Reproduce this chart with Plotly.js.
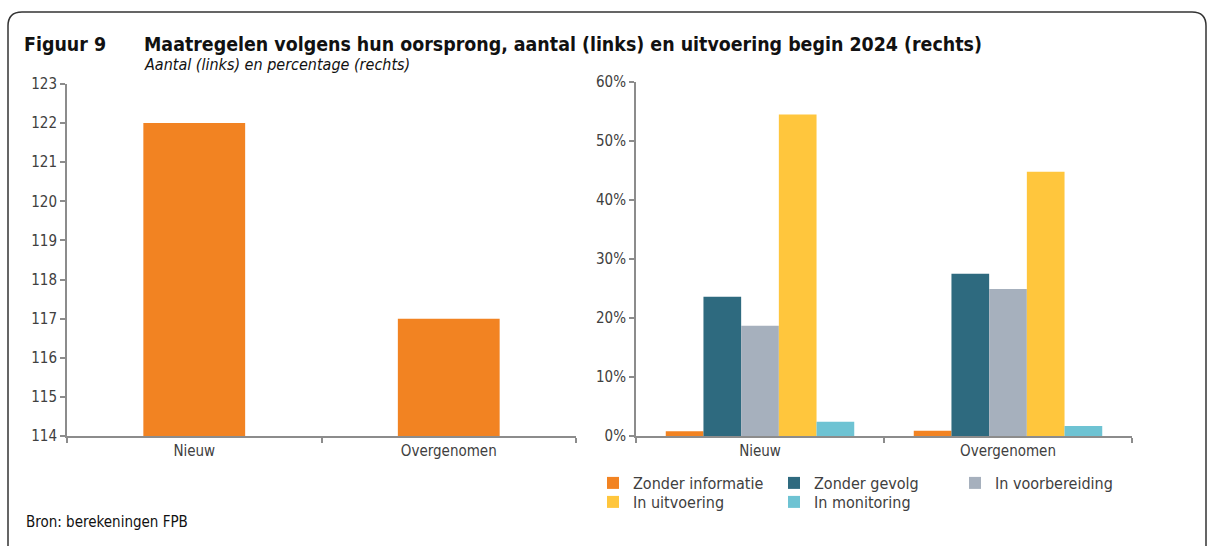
<!DOCTYPE html>
<html><head><meta charset="utf-8">
<script src="https://cdn.plot.ly/plotly-3.0.1.min.js"></script>
<style>body{margin:0;background:#fff}#c{width:1215px;height:546px}</style>
</head><body><div id="c"></div>
<script>
// Left panel: number of measures by origin
const origins = ['Nieuw', 'Overgenomen'];
const counts = [122, 117];

// Right panel: execution status at start of 2024 (share)
const statusNames = ['Zonder informatie', 'Zonder gevolg', 'In voorbereiding', 'In uitvoering', 'In monitoring'];
const shareNieuw = [0.008, 0.236, 0.187, 0.545, 0.024];
const shareOvergenomen = [0.009, 0.275, 0.249, 0.448, 0.017];
const statusColors = ['#F28322', '#2E6A7F', '#A6B0BD', '#FFC63D', '#6EC3D3'];

const FONT = '"DejaVu Sans Condensed", "DejaVu Sans", sans-serif';
const W = 1215, H = 546;
const px = v => v / W;
const py = v => 1 - v / H;

const traces = [{
  type: 'bar', x: origins, y: counts, xaxis: 'x', yaxis: 'y', width: 0.4,
  marker: {color: '#F28322'}, showlegend: false, hoverinfo: 'x+y'
}];
statusNames.forEach((name, i) => {
  traces.push({
    type: 'bar', name: name, x: origins, y: [shareNieuw[i], shareOvergenomen[i]],
    xaxis: 'x2', yaxis: 'y2', marker: {color: statusColors[i]},
    legend: i < 3 ? 'legend' : 'legend2'
  });
});

const axisLine = {showline: true, linecolor: '#8C8C8C', linewidth: 2, ticks: 'outside',
  ticklen: 5, tickcolor: '#8C8C8C', tickwidth: 2, showgrid: false, zeroline: false,
  tickfont: {family: FONT, size: 15, color: '#404040'}};

const legendBase = {orientation: 'h', xanchor: 'left', yanchor: 'top', entrywidth: 136,
  font: {family: FONT, size: 16, color: '#404040'}, bgcolor: 'rgba(0,0,0,0)',
  itemclick: false, itemdoubleclick: false, traceorder: 'normal'};

const layout = {
  width: W, height: H, margin: {l: 0, r: 0, t: 0, b: 0},
  paper_bgcolor: '#fff', plot_bgcolor: '#fff', showlegend: true,
  barmode: 'group', bargap: 0.24, bargroupgap: 0,
  font: {family: FONT, color: '#404040'},
  xaxis: Object.assign({}, axisLine, {domain: [px(67), px(576)], anchor: 'y', tickson: 'boundaries'}),
  yaxis: Object.assign({}, axisLine, {domain: [py(436), py(84)], anchor: 'x', range: [114, 123], dtick: 1}),
  xaxis2: Object.assign({}, axisLine, {domain: [px(636), px(1132)], anchor: 'y2', tickson: 'boundaries'}),
  yaxis2: Object.assign({}, axisLine, {domain: [py(436), py(82)], anchor: 'x2', range: [0, 0.6], dtick: 0.1, tickformat: '.0%'}),
  legend: Object.assign({}, legendBase, {x: px(593), y: py(466)}),
  legend2: Object.assign({}, legendBase, {x: px(593), y: py(485)}),
  annotations: [
    {text: '<b>Figuur 9</b>', xref: 'paper', yref: 'paper', x: px(22), y: py(44), xanchor: 'left', yanchor: 'middle', showarrow: false, font: {family: FONT, size: 19.4, color: '#111111'}},
    {text: '<b>Maatregelen volgens hun oorsprong, aantal (links) en uitvoering begin 2024 (rechts)</b>', xref: 'paper', yref: 'paper', x: px(142), y: py(44), xanchor: 'left', yanchor: 'middle', showarrow: false, font: {family: FONT, size: 19.4, color: '#111111'}},
    {text: '<i>Aantal (links) en percentage (rechts)</i>', xref: 'paper', yref: 'paper', x: px(142), y: py(64), xanchor: 'left', yanchor: 'middle', showarrow: false, font: {family: FONT, size: 16, color: '#111111'}},
    {text: 'Bron: berekeningen FPB', xref: 'paper', yref: 'paper', x: px(24), y: py(522), xanchor: 'left', yanchor: 'middle', showarrow: false, font: {family: FONT, size: 15, color: '#111111'}}
  ],
  shapes: [{
    type: 'path', xref: 'paper', yref: 'paper',
    path: `M ${px(8)},${py(570)} L ${px(8)},${py(26)} Q ${px(8)},${py(12)} ${px(22)},${py(12)} L ${px(1192)},${py(12)} Q ${px(1206)},${py(12)} ${px(1206)},${py(26)} L ${px(1206)},${py(570)}`,
    line: {color: '#333333', width: 1.5}
  }]
};

Plotly.newPlot('c', traces, layout, {displayModeBar: false, staticPlot: true});
</script></body></html>
